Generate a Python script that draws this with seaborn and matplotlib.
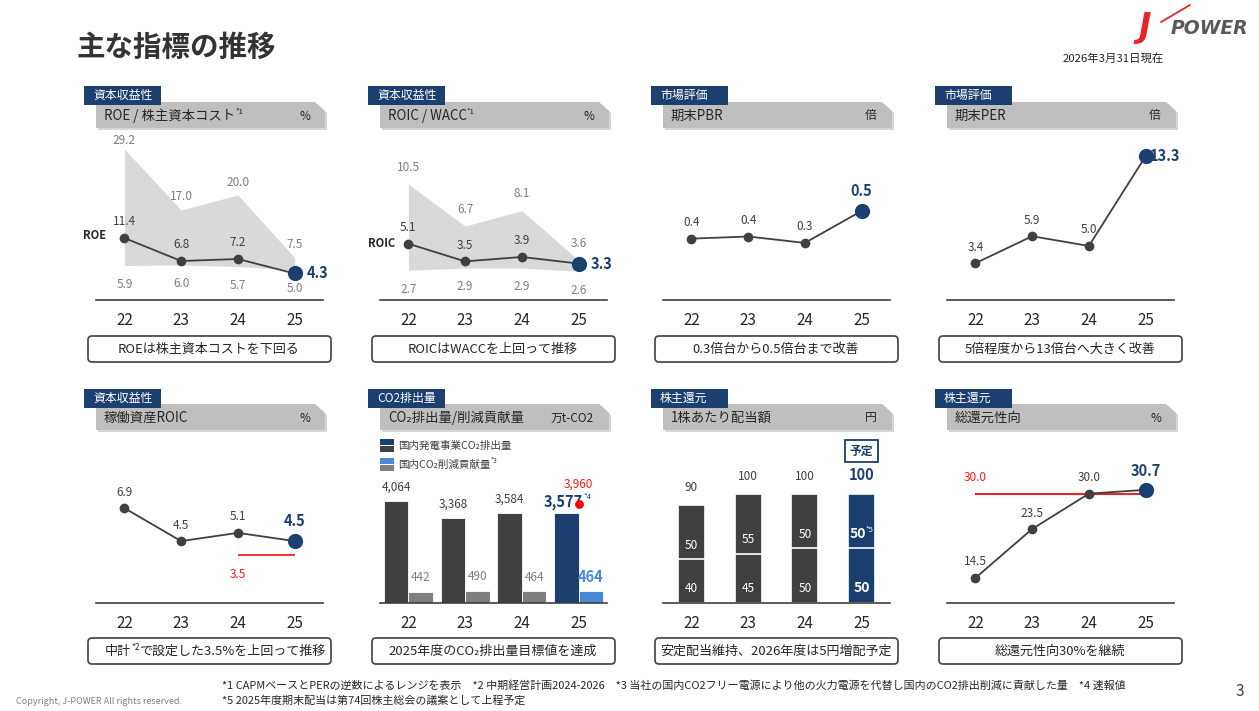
import numpy as np
import pandas as pd
import seaborn as sns
import matplotlib.pyplot as plt
from matplotlib.patches import Polygon, Rectangle, FancyBboxPatch

sns.set_style("white")
plt.rcParams['font.family'] = ['Noto Sans CJK JP', 'DejaVu Sans']

# ---- data ----
years = ["22", "23", "24", "25"]
pos = [0, 1, 2, 3]

roe = [11.4, 6.8, 7.2, 4.3]
cost_hi = [29.2, 17.0, 20.0, 7.5]
cost_lo = [5.9, 6.0, 5.7, 5.0]

roic = [5.1, 3.5, 3.9, 3.3]
wacc_hi = [10.5, 6.7, 8.1, 3.6]
wacc_lo = [2.7, 2.9, 2.9, 2.6]

pbr = [0.36, 0.37, 0.34, 0.49]
per = [3.4, 5.9, 5.0, 13.3]

op_roic = [6.9, 4.5, 5.1, 4.5]
op_roic_target = 3.5

co2_emit = [4064, 3368, 3584, 3577]
co2_cut = [442, 490, 464, 464]
co2_target = 3960

div_interim = [40, 45, 50, 50]
div_final = [50, 55, 50, 50]

payout = [14.5, 23.5, 30.0, 30.7]
payout_target = 30.0

# ---- colours ----
NAVY = "#1b3f6e"
DARK = "#404040"
GRAY = "#7f7f7f"
BLUE = "#4a89d8"
BAND = "#d9d9d9"
RED = "#ff1a1a"
TXT = "#262626"

W, H = 1259, 711
fig = plt.figure(figsize=(W / 100, H / 100), dpi=100)
bg = fig.add_axes([0, 0, 1, 1])
bg.set_xlim(0, W)
bg.set_ylim(H, 0)
bg.axis("off")

X0 = [96, 380, 663, 947]
PW = 227


def frame(x0, row, tag, title, unit, note, sup=None):
    ty = [86, 389][row]
    hy = [102, 404][row]
    by = [336, 638][row]
    shape = [(x0, hy), (x0 + 219, hy), (x0 + 229, hy + 9), (x0 + 229, hy + 26), (x0, hy + 26)]
    bg.add_patch(Polygon([(x + 2, y + 2) for x, y in shape], closed=True, fc="#a6a6a6", ec="none", alpha=0.45))
    bg.add_patch(Polygon(shape, closed=True, fc="#bfbfbf", ec="none"))
    bg.add_patch(Rectangle((x0 - 12, ty), 77, 19, fc=NAVY, ec="none", zorder=3))
    bg.text(x0 - 3, ty + 9.5, tag, color="white", fontsize=8.6, va="center", zorder=4)
    t = bg.text(x0 + 8, hy + 14, title, fontsize=9.6, va="center", color=TXT)
    if sup:
        bg.annotate(sup, xy=(1, 0.8), xycoords=t, fontsize=5.5, va="center", ha="left", color=TXT)
    bg.text(x0 + 214, hy + 14, unit, fontsize=8.5, va="center", ha="right", color=TXT)
    bg.add_patch(FancyBboxPatch((x0 - 8, by), 243, 26, boxstyle="round,pad=0,rounding_size=4",
                                fc="white", ec=DARK, lw=1.2))
    if isinstance(note, str):
        bg.text(x0 + 113, by + 13.5, note, fontsize=9.4, ha="center", va="center", color=TXT)
    else:
        a, s, b = note
        t1 = bg.text(x0 + 9, by + 13.5, a, fontsize=9.4, ha="left", va="center", color=TXT)
        s1 = bg.annotate(s, xy=(1, 0.8), xycoords=t1, fontsize=6, ha="left", va="center", color=TXT)
        bg.annotate(b, xy=(1, 0.5), xycoords=(s1, t1), fontsize=9.4, ha="left", va="center", color=TXT)


def style_ax(ax, ylim):
    ax.set_xlim(-0.5, 3.5)
    ax.set_ylim(*ylim)
    ax.set(xlabel="", ylabel="")
    ax.set_xticks(pos, years)
    ax.set_yticks([])
    for side in ["left", "right", "top"]:
        ax.spines[side].set_visible(False)
    ax.spines["bottom"].set_color(DARK)
    ax.spines["bottom"].set_linewidth(1.2)
    ax.tick_params(axis="x", length=0, pad=9, labelsize=11, labelcolor=TXT)
    ax.patch.set_alpha(0)


def new_ax(col, row):
    top, bottom = [(140, 300), (440, 603)][row]
    return fig.add_axes([X0[col] / W, 1 - bottom / H, PW / W, (bottom - top) / H])


def lab(ax, x, y, s, dx=0, dy=16, size=8.5, color=DARK, **kw):
    ha = kw.pop("ha", "center")
    return ax.annotate(s, (x, y), xytext=(dx, dy), textcoords="offset pixels",
                       ha=ha, va="center", fontsize=size, color=color, **kw)


def line_panel(ax, vals, fmt="{:.1f}", dy_last=20, last_side="top"):
    sns.lineplot(x=pos, y=vals, color=DARK, marker="o", markersize=7, markeredgewidth=0,
                 linewidth=1.3, ax=ax, zorder=3)
    sns.scatterplot(x=pos[-1:], y=vals[-1:], color=NAVY, s=120, linewidth=0, ax=ax, zorder=4)
    for i in pos[:-1]:
        lab(ax, i, vals[i], fmt.format(vals[i]))
    if last_side == "top":
        lab(ax, pos[-1], vals[-1], fmt.format(vals[-1]), dy=dy_last, size=10.5,
            color=NAVY, fontweight="bold")
    else:
        lab(ax, pos[-1], vals[-1], fmt.format(vals[-1]), dx=last_side, dy=0, size=10.5,
            color=NAVY, fontweight="bold", ha="left")


# ---- page text ----
bg.text(77, 48, "主な指標の推移", fontsize=20.5, fontweight="bold", va="center", color="#333333")
bg.text(1063, 58, "2026年3月31日現在", fontsize=8.2, va="center", color=TXT)
bg.plot([1161, 1190], [22, 5], color="#e8262a", lw=1.3, solid_capstyle="round")
bg.text(1139, 27, "J", fontsize=24, fontweight="bold", style="italic", color="#e8262a",
        va="center", family="DejaVu Sans")
bg.text(1171, 29, "POWER", fontsize=13.5, fontweight="bold", style="italic", color="#595959",
        va="center", family="DejaVu Sans")
bg.text(222, 686, "*1 CAPMベースとPERの逆数によるレンジを表示　*2 中期経営計画2024-2026　"
        "*3 当社の国内CO2フリー電源により他の火力電源を代替し国内のCO2排出削減に貢献した量　*4 速報値",
        fontsize=7.9, va="center", color=TXT)
bg.text(222, 700, "*5 2025年度期末配当は第74回株主総会の議案として上程予定", fontsize=7.9, va="center", color=TXT)
bg.text(16, 701, "Copyright, J-POWER All rights reserved.", fontsize=6.5, va="center", color="#808080")
bg.text(1240, 691, "3", fontsize=11, va="center", ha="center", color=DARK)

# ---- frames ----
frame(X0[0], 0, "資本収益性", "ROE / 株主資本コスト", "%", "ROEは株主資本コストを下回る", sup="*1")
frame(X0[1], 0, "資本収益性", "ROIC / WACC", "%", "ROICはWACCを上回って推移", sup="*1")
frame(X0[2], 0, "市場評価", "期末PBR", "倍", "0.3倍台から0.5倍台まで改善")
frame(X0[3], 0, "市場評価", "期末PER", "倍", "5倍程度から13倍台へ大きく改善")
frame(X0[0], 1, "資本収益性", "稼働資産ROIC", "%", ("中計", "*2", "で設定した3.5%を上回って推移"))
frame(X0[1], 1, "CO2排出量", "CO₂排出量/削減貢献量", "万t-CO2", "2025年度のCO₂排出量目標値を達成")
frame(X0[2], 1, "株主還元", "1株あたり配当額", "円", "安定配当維持、2026年度は5円増配予定")
frame(X0[3], 1, "株主還元", "総還元性向", "%", "総還元性向30%を継続")

# ---- ROE / cost of equity ----
ax = new_ax(0, 0)
ax.fill_between(pos, cost_lo, cost_hi, color=BAND, lw=0, zorder=1)
line_panel(ax, roe, last_side=12)
for i in pos:
    lab(ax, i, cost_hi[i], f"{cost_hi[i]:.1f}", dy=13 if i else 8, color=GRAY)
    lab(ax, i, cost_lo[i], f"{cost_lo[i]:.1f}", dy=-19, color=GRAY)
lab(ax, pos[0], roe[0], "ROE", dx=-18, dy=2, size=8, color=TXT, fontweight="bold", ha="right")
style_ax(ax, (-1, 31))

# ---- ROIC / WACC ----
ax = new_ax(1, 0)
ax.fill_between(pos, wacc_lo, wacc_hi, color=BAND, lw=0, zorder=1)
line_panel(ax, roic, last_side=12)
for i in pos:
    lab(ax, i, wacc_hi[i], f"{wacc_hi[i]:.1f}", dy=17, color=GRAY)
    lab(ax, i, wacc_lo[i], f"{wacc_lo[i]:.1f}", dy=-19, color=GRAY)
lab(ax, pos[0], roic[0], "ROIC", dx=-13, dy=0, size=8, color=TXT, fontweight="bold", ha="right")
style_ax(ax, (0, 14.5))

# ---- PBR ----
ax = new_ax(2, 0)
line_panel(ax, pbr, dy_last=20)
style_ax(ax, (0.072, 0.823))

# ---- PER ----
ax = new_ax(3, 0)
line_panel(ax, per, last_side=4)
style_ax(ax, (0, 14.8))

# ---- operating asset ROIC ----
ax = new_ax(0, 1)
ax.hlines(op_roic_target, years.index("24"), years.index("25"), color="#f03c3c", lw=1.5, zorder=2)
lab(ax, years.index("24"), op_roic_target, f"{op_roic_target:.1f}", dy=-20, color=RED)
line_panel(ax, op_roic, dy_last=20)
style_ax(ax, (0, 11.85))

# ---- CO2 ----
ax = new_ax(1, 1)
co2_df = pd.DataFrame({"year": years * 2, "value": co2_emit + co2_cut,
                       "kind": ["emit"] * 4 + ["cut"] * 4})
sns.barplot(data=co2_df, x="year", y="value", hue="kind", palette=[DARK, GRAY], width=0.86,
            saturation=1, errorbar=None, legend=False, ax=ax, edgecolor="white", linewidth=0.6)
ax.containers[0][3].set_facecolor(NAVY)
ax.containers[1][3].set_facecolor(BLUE)
for k, (cont, vals) in enumerate(zip(ax.containers, [co2_emit, co2_cut])):
    for i, p in enumerate(cont):
        cx = p.get_x() + p.get_width() / 2
        if i < 3:
            lab(ax, cx, p.get_height(), f"{vals[i]:,}", dy=14, color=DARK if k == 0 else GRAY)
        elif k == 0:
            t = lab(ax, cx, p.get_height(), f"{vals[i]:,}", dx=-3, dy=11, size=10.5, color=NAVY,
                    fontweight="bold")
            ax.annotate("*4", xy=(1, 0.8), xycoords=t, fontsize=5.5, ha="left", va="center", color=NAVY)
        else:
            lab(ax, cx, p.get_height(), f"{vals[i]:,}", dy=14, size=10.5, color=BLUE, fontweight="bold")
ax.scatter([len(years) - 1], [co2_target], color="#ff0000", s=40, zorder=5, lw=0)
lab(ax, len(years) - 1, co2_target, f"{co2_target:,}", dy=19, color=RED)
style_ax(ax, (0, 6494))
# legend
for yy, (c1, c2), txt in [(439, (NAVY, DARK), "国内発電事業CO₂排出量"), (458, (BLUE, GRAY), "国内CO₂削減貢献量")]:
    bg.add_patch(Rectangle((380, yy), 14, 5.5, fc=c1, ec="none"))
    bg.add_patch(Rectangle((380, yy + 7), 14, 5.5, fc=c2, ec="none"))
    tt = bg.text(398, yy + 6.5, txt, fontsize=7.6, va="center", color=DARK)
    if yy == 458:
        bg.annotate("*3", xy=(1, 0.8), xycoords=tt, fontsize=4.8, ha="left", va="center", color=DARK)

# ---- dividend ----
ax = new_ax(2, 1)
div_total = [a + b for a, b in zip(div_interim, div_final)]
sns.barplot(x=years, y=div_total, color=DARK, width=0.48, saturation=1, errorbar=None, ax=ax,
            edgecolor="white", linewidth=1.2)
sns.barplot(x=years, y=div_interim, color=DARK, width=0.48, saturation=1, errorbar=None, ax=ax,
            edgecolor="white", linewidth=1.2)
for cont in ax.containers:
    cont[3].set_facecolor(NAVY)
for i in pos:
    last = i == pos[-1]
    wt = "bold" if last else "normal"
    lab(ax, i, div_total[i], f"{div_total[i]}", dy=19 if last else 17, size=10.5 if last else 8.5,
        color=NAVY if last else DARK, fontweight=wt)
    t = lab(ax, i, div_interim[i], f"{div_final[i]}", dx=-4 if last else 0, dy=14,
            size=10 if last else 8.5, color="white", fontweight=wt)
    if last:
        ax.annotate("*5", xy=(1, 0.8), xycoords=t, fontsize=5.5, ha="left", va="center", color="white")
    lab(ax, i, 0, f"{div_interim[i]}", dy=15, size=10 if last else 8.5, color="white", fontweight=wt)
ax.annotate("予定", (pos[-1], div_total[-1]), xytext=(0, 43), textcoords="offset pixels",
            ha="center", va="center", fontsize=8.5, fontweight="bold", color=NAVY,
            bbox=dict(boxstyle="square,pad=0.4", fc="white", ec=NAVY, lw=1.3))
style_ax(ax, (0, 149.5))

# ---- total payout ratio ----
ax = new_ax(3, 1)
ax.hlines(payout_target, pos[0], pos[-1], color="#e8262a", lw=1.5, zorder=2)
lab(ax, pos[0], payout_target, f"{payout_target:.1f}", dy=16, color=RED)
line_panel(ax, payout, dy_last=19)
style_ax(ax, (9.9, 39.86))

fig.savefig("out.png", dpi=100)
